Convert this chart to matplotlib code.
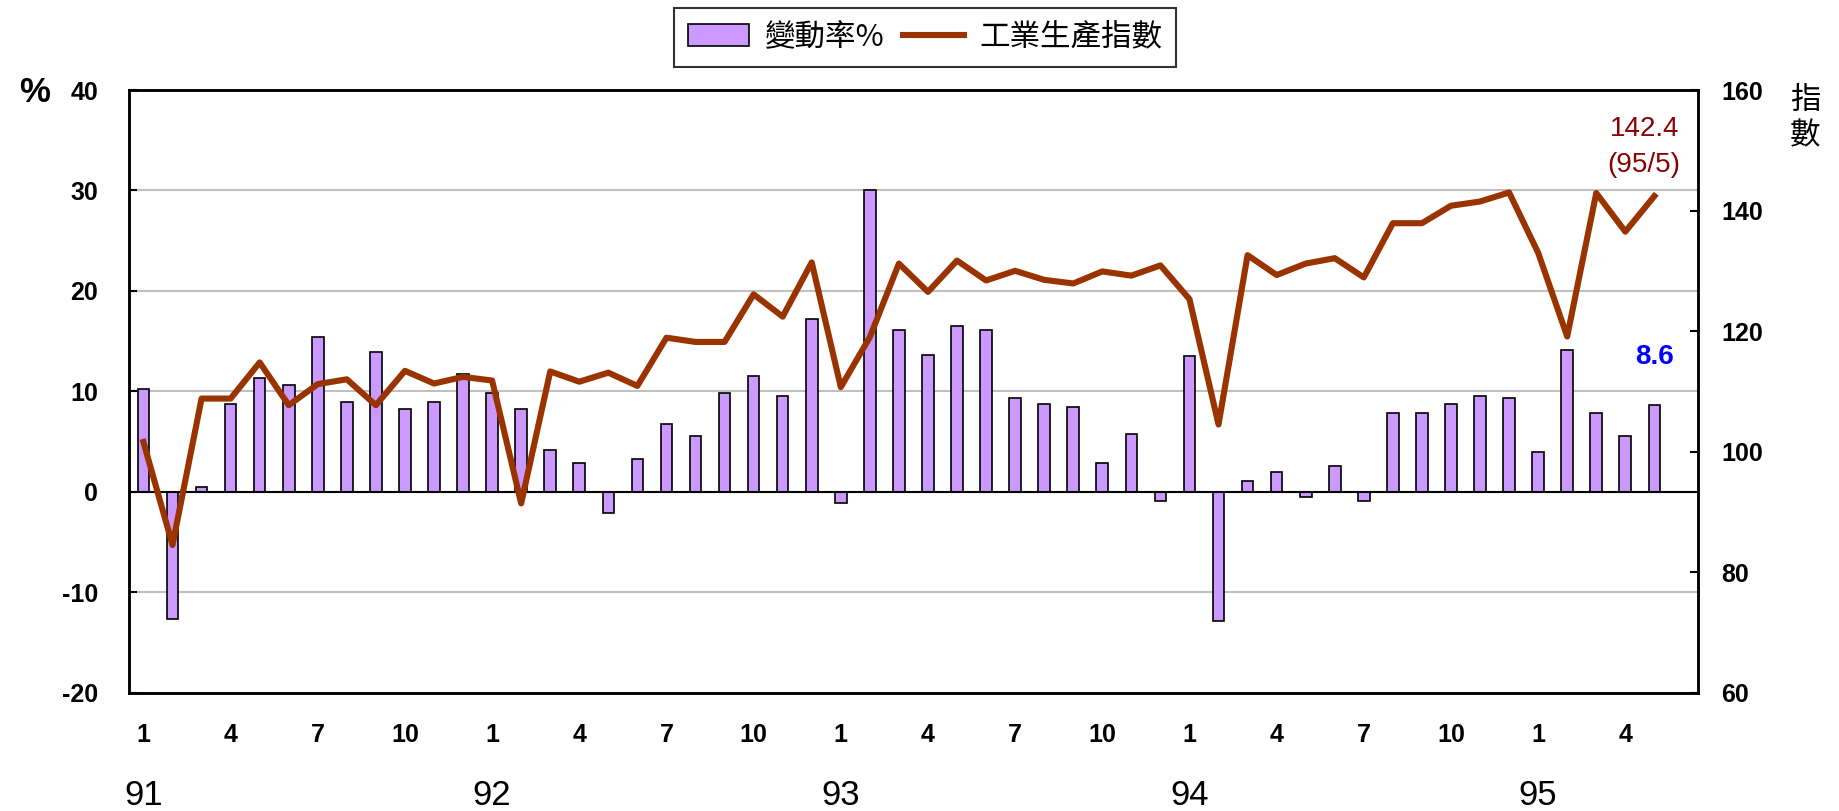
import numpy as np
import matplotlib.pyplot as plt
from matplotlib import transforms

plt.rcParams['font.family'] = ['Liberation Sans', 'Noto Sans CJK TC', 'DejaVu Sans']
plt.rcParams['axes.unicode_minus'] = False

# ROC years 91/1 .. 95/5
years = ['91', '92', '93', '94', '95']
months = list(range(1, 13)) * 4 + [1, 2, 3, 4, 5]

# monthly change rate (%)
change = [10.2, -12.7, 0.5, 8.7, 11.3, 10.6, 15.4, 8.9, 13.9, 8.2, 8.9, 11.7,
          9.8, 8.2, 4.2, 2.9, -2.1, 3.3, 6.7, 5.6, 9.8, 11.5, 9.5, 17.2,
          -1.1, 30.0, 16.1, 13.6, 16.5, 16.1, 9.3, 8.7, 8.4, 2.9, 5.8, -0.9,
          13.5, -12.9, 1.1, 2.0, -0.5, 2.6, -0.9, 7.8, 7.8, 8.7, 9.5, 9.3,
          4.0, 14.1, 7.8, 5.6, 8.6]

# industrial production index
index = [101.6, 84.5, 108.8, 108.8, 114.8, 107.7, 111.2, 112.0, 107.7, 113.4, 111.3, 112.4,
         111.8, 91.4, 113.3, 111.6, 113.1, 110.9, 118.9, 118.2, 118.2, 126.1, 122.4, 131.4,
         110.7, 119.0, 131.2, 126.5, 131.7, 128.4, 130.0, 128.5, 127.9, 129.9, 129.2, 130.9,
         125.3, 104.5, 132.6, 129.3, 131.2, 132.1, 128.9, 137.9, 137.9, 140.8, 141.5, 143.0,
         133.0, 119.1, 142.9, 136.5, 142.4]

last_label = '142.4\n(95/5)'

x = np.arange(len(change))

fig = plt.figure(figsize=(18.39, 8.11), dpi=100)
ax = fig.add_axes([0.0701, 0.1459, 0.8532, 0.7431])
ax2 = ax.twinx()

ax.set_axisbelow(True)
ax.grid(axis='y', color='#C0C0C0', lw=1.5)
ax.bar(x, change, width=0.4, color='#CC99FF', edgecolor='black', lw=1.2,
       label='變動率%', zorder=2)
ax.axhline(0, color='black', lw=1.5, zorder=3)
ax2.plot(x, index, color='#993300', lw=4.4, label='工業生產指數')

ax.set_xlim(-0.5, len(change) + 0.5)
ax.set_ylim(-20, 40)
ax2.set_ylim(60, 160)
ax.set_yticks(range(-20, 41, 10))
ax2.set_yticks(range(60, 161, 20))

tick_pos = [i for i, m in enumerate(months) if m in (1, 4, 7, 10)]
ax.set_xticks(tick_pos, [str(months[i]) for i in tick_pos])
ax.tick_params(axis='x', length=0, pad=22, labelsize=18)
ax.tick_params(axis='y', direction='in', length=6, width=1.5, pad=22, labelsize=18)
ax2.tick_params(axis='y', direction='in', length=6, width=1.5, pad=17, labelsize=18)
for lab in ax.get_xticklabels() + ax.get_yticklabels() + ax2.get_yticklabels():
    lab.set_fontweight('bold')

for a in (ax, ax2):
    for s in a.spines.values():
        s.set_linewidth(1.8)

# year labels under each January
trans = transforms.blended_transform_factory(ax.transData, fig.transFigure)
jan = [i for i, m in enumerate(months) if m == 1]
for i, yr in zip(jan, years):
    ax.text(i, 0.019, yr, transform=trans, ha='center', va='center', fontsize=25)

# axis titles
fig.text(0.0188, 0.886, '%', ha='center', va='center', fontsize=25, fontweight='bold')
fig.text(0.9815, 0.876, '指', ha='center', va='center', fontsize=22)
fig.text(0.9815, 0.832, '數', ha='center', va='center', fontsize=22)

# last point annotations
ax2.text(x[-1] - 0.35, 150.5, last_label, ha='center', va='center', fontsize=20,
         color='#8B0000', linespacing=1.5)
ax.text(x[-1], change[-1] + 4.8, f'{change[-1]:.1f}', ha='center', va='center',
        fontsize=20, fontweight='bold', color='#0000FF')

h1, l1 = ax.get_legend_handles_labels()
h2, l2 = ax2.get_legend_handles_labels()
leg = fig.legend(h1 + h2, l1 + l2, loc='upper center', bbox_to_anchor=(0.503, 0.99),
                 borderaxespad=0, ncol=2, frameon=True, fancybox=False, handlelength=2.0,
                 handletextpad=0.5, columnspacing=0.6, borderpad=0.45,
                 prop={'family': ['Noto Sans CJK TC'], 'size': 22})
leg.get_frame().set_edgecolor('black')
leg.get_frame().set_linewidth(1.5)

plt.savefig('out.png', dpi=100)
